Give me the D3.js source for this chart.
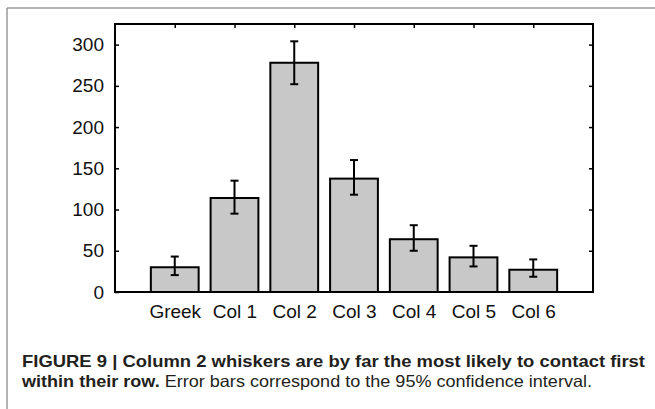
<!DOCTYPE html>
<html>
<head>
<meta charset="utf-8">
<script src="https://cdn.jsdelivr.net/npm/d3@7"></script>
<style>
  html, body { margin: 0; padding: 0; background: #fff; }
  svg { display: block; }
  text { font-family: "Liberation Sans", Arial, sans-serif; }
</style>
</head>
<body>
<svg id="chart" width="655" height="409"></svg>
<script>
// Contact counts per whisker column, with 95% confidence limits
const categories = ["Greek", "Col 1", "Col 2", "Col 3", "Col 4", "Col 5", "Col 6"];
const counts     = [30, 114, 278, 137.5, 64, 42, 27];
const ciLow      = [20.5, 95, 252, 118, 50, 31, 18.5];
const ciHigh     = [43, 135, 304, 160, 81, 56, 39.5];
const yTicks     = [0, 50, 100, 150, 200, 250, 300];

const svg = d3.select("#chart");
const W = 655, H = 409;
const plot = { left: 115, right: 593, top: 24, bottom: 292 };

// Figure frame: top and left rules
svg.append("line").attr("x1", 7).attr("x2", W).attr("y1", 8).attr("y2", 8)
  .attr("stroke", "#9a9a9a").attr("stroke-width", 1.5);
svg.append("line").attr("x1", 7).attr("x2", 7).attr("y1", 8).attr("y2", H)
  .attr("stroke", "#9a9a9a").attr("stroke-width", 1.5);

const x = d3.scaleLinear().domain([0, categories.length + 1]).range([plot.left, plot.right]);
const y = d3.scaleLinear().domain([0, 325]).range([plot.bottom, plot.top]);
const step = x(1) - x(0);
const barW = step * 0.8;

const data = categories.map((c, i) => ({ c, i: i + 1, v: counts[i], lo: ciLow[i], hi: ciHigh[i] }));

// Bars
svg.append("g").selectAll("rect").data(data).join("rect")
  .attr("x", d => x(d.i) - barW / 2)
  .attr("width", barW)
  .attr("y", d => y(d.v))
  .attr("height", d => y(0) - y(d.v))
  .attr("fill", "#c8c8c8")
  .attr("stroke", "#000")
  .attr("stroke-width", 2);

// Error bars
const eb = svg.append("g").attr("stroke", "#000").attr("stroke-width", 2);
eb.selectAll("line.v").data(data).join("line").attr("class", "v")
  .attr("x1", d => x(d.i)).attr("x2", d => x(d.i))
  .attr("y1", d => y(d.lo)).attr("y2", d => y(d.hi));
eb.selectAll("line.t").data(data).join("line").attr("class", "t")
  .attr("x1", d => x(d.i) - 4).attr("x2", d => x(d.i) + 4)
  .attr("y1", d => y(d.hi)).attr("y2", d => y(d.hi));
eb.selectAll("line.b").data(data).join("line").attr("class", "b")
  .attr("x1", d => x(d.i) - 4).attr("x2", d => x(d.i) + 4)
  .attr("y1", d => y(d.lo)).attr("y2", d => y(d.lo));

// Axes: ticks point inward on every side
const tickIdx = d3.range(1, categories.length + 1);
const axisStyle = g => {
  g.select(".domain").remove();
  g.selectAll(".tick line").attr("stroke", "#000").attr("stroke-width", 1.5);
  g.selectAll("text").attr("fill", "#111").attr("font-size", 19);
};

svg.append("g").attr("transform", `translate(${plot.left},0)`)
  .call(d3.axisLeft(y).tickValues(yTicks).tickSize(-4).tickPadding(11))
  .call(axisStyle);
svg.append("g").attr("transform", `translate(${plot.right},0)`)
  .call(d3.axisRight(y).tickValues(yTicks.filter(v => v > 0)).tickSize(-4).tickFormat(""))
  .call(axisStyle);
svg.append("g").attr("transform", `translate(0,${plot.top})`)
  .call(d3.axisTop(x).tickValues(tickIdx).tickSize(-4).tickFormat(""))
  .call(axisStyle);
svg.append("g").attr("transform", `translate(0,${plot.bottom})`)
  .call(d3.axisBottom(x).tickValues(tickIdx).tickSize(0).tickPadding(13)
    .tickFormat(i => categories[i - 1]))
  .call(axisStyle);

// Plot box
svg.append("rect")
  .attr("x", plot.left).attr("y", plot.top)
  .attr("width", plot.right - plot.left).attr("height", plot.bottom - plot.top)
  .attr("fill", "none").attr("stroke", "#000").attr("stroke-width", 2);

// Caption
const cap = svg.append("g").attr("fill", "#231f20").attr("font-size", 16.5);
cap.append("text").attr("x", 22).attr("y", 367)
  .attr("font-weight", "bold")
  .attr("textLength", 623).attr("lengthAdjust", "spacingAndGlyphs")
  .text("FIGURE 9 | Column 2 whiskers are by far the most likely to contact first");
const l2 = cap.append("text").attr("x", 22).attr("y", 387)
  .attr("textLength", 570).attr("lengthAdjust", "spacingAndGlyphs");
l2.append("tspan").attr("font-weight", "bold").text("within their row.");
l2.append("tspan").text(" Error bars correspond to the 95% confidence interval.");
</script>
</body>
</html>
